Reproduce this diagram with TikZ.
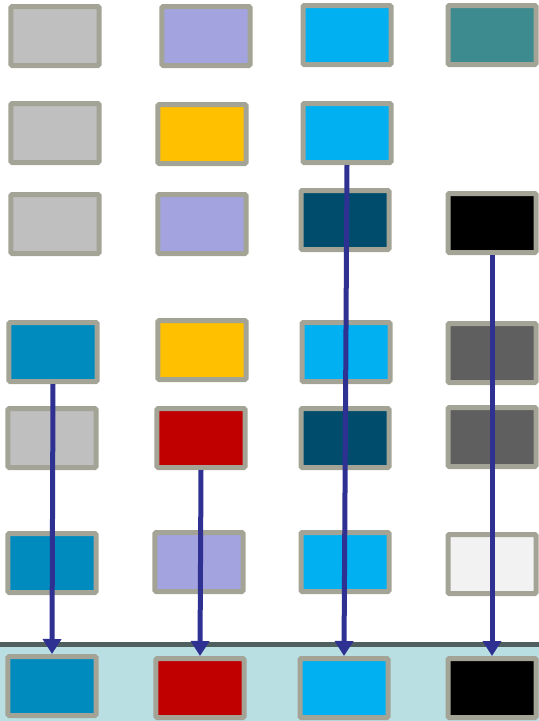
\documentclass[tikz,border=0pt]{standalone}
\usepackage{xcolor}
\usepackage{tikz}
\usetikzlibrary{arrows.meta}
\definecolor{boxgray}{RGB}{191,191,191}
\definecolor{boxlilac}{RGB}{163,163,223}
\definecolor{boxcyan}{RGB}{0,176,240}
\definecolor{boxteal}{RGB}{61,139,143}
\definecolor{boxamber}{RGB}{255,192,0}
\definecolor{boxnavy}{RGB}{0,76,108}
\definecolor{boxblue}{RGB}{0,139,191}
\definecolor{boxdark}{RGB}{95,95,95}
\definecolor{boxred}{RGB}{192,0,0}
\definecolor{boxwhite}{RGB}{242,242,242}
\definecolor{framegray}{RGB}{164,164,150}
\definecolor{arrowblue}{RGB}{46,49,146}
\definecolor{bandblue}{RGB}{185,223,227}
\definecolor{banddark}{RGB}{79,95,95}
\tikzset{
  box/.style={rectangle, draw=framegray, line width=0.15cm,
    minimum width=2.64cm, minimum height=1.77cm, inner sep=0pt,
    rounded corners=1pt},
  link/.style={-{Triangle[width=0.54cm, length=0.45cm]},
    line width=0.15cm, color=arrowblue},
  band/.style={fill=bandblue, draw=none}
}
\begin{document}
\begin{tikzpicture}[x=0.03cm, y=-0.03cm]
  \useasboundingbox (0,0) rectangle (539,721);
  % bottom band
  \fill[band] (0,644) rectangle (539,721);
  \draw[line width=0.15cm, banddark] (0,644) -- (539,644);
  % row 1
  \node[box, fill=boxgray]  (r1c1) at (55,36) {};
  \node[box, fill=boxlilac] (r1c2) at (206,36) {};
  \node[box, fill=boxcyan]  (r1c3) at (347,35) {};
  \node[box, fill=boxteal]  (r1c4) at (492,35) {};
  % row 2
  \node[box, fill=boxgray]  (r2c1) at (55,133) {};
  \node[box, fill=boxamber] (r2c2) at (202,134) {};
  \node[box, fill=boxcyan]  (r2c3) at (347,133) {};
  % row 3
  \node[box, fill=boxgray]  (r3c1) at (55,224) {};
  \node[box, fill=boxlilac] (r3c2) at (202,224) {};
  \node[box, fill=boxnavy]  (r3c3) at (345,220) {};
  \node[box, fill=black]    (r3c4) at (492,223) {};
  % row 4
  \node[box, fill=boxblue]  (r4c1) at (53,352) {};
  \node[box, fill=boxamber] (r4c2) at (202,350) {};
  \node[box, fill=boxcyan]  (r4c3) at (346,352) {};
  \node[box, fill=boxdark]  (r4c4) at (492,353) {};
  % row 5
  \node[box, fill=boxgray]  (r5c1) at (52,438) {};
  \node[box, fill=boxred]   (r5c2) at (201,438) {};
  \node[box, fill=boxnavy]  (r5c3) at (345,438) {};
  \node[box, fill=boxdark]  (r5c4) at (492,437) {};
  % row 6
  \node[box, fill=boxblue]  (r6c1) at (52,563) {};
  \node[box, fill=boxlilac] (r6c2) at (199,562) {};
  \node[box, fill=boxcyan]  (r6c3) at (345,562) {};
  \node[box, fill=boxwhite] (r6c4) at (492,564) {};
  % result row
  \node[box, fill=boxblue]  (r7c1) at (52,686) {};
  \node[box, fill=boxred]   (r7c2) at (200,688) {};
  \node[box, fill=boxcyan]  (r7c3) at (344,688) {};
  \node[box, fill=black]    (r7c4) at (492,688) {};
  % links
  \draw[link] (r4c1.south) -- (r7c1.north);
  \draw[link] (r5c2.south) -- (r7c2.north);
  \draw[link] (r2c3.south) -- (r7c3.north);
  \draw[link] (r3c4.south) -- (r7c4.north);
\end{tikzpicture}
\end{document}
